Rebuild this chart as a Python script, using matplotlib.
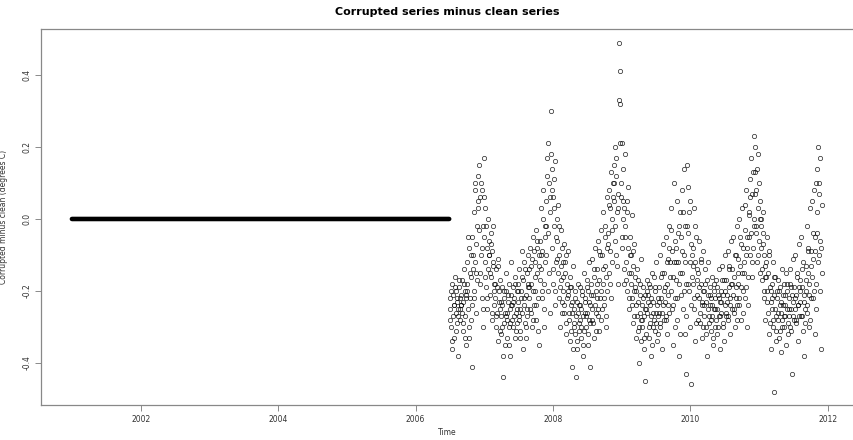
import numpy as np
import matplotlib.pyplot as plt

# corrupted minus clean (degrees C), sampled every 3 days from 2006-07-01
corr_2006 = [
    -0.22, -0.25, -0.30, -0.18, -0.36, -0.27, -0.21, -0.24, -0.33, -0.16,
    -0.26, -0.20, -0.23, -0.29, -0.38, -0.25, -0.19, -0.22, -0.28, -0.24,
    -0.21, -0.17, -0.26, -0.31, -0.23, -0.14, -0.20, -0.27, -0.35, -0.22,
    -0.12, -0.18, -0.25, -0.08, -0.33, -0.15, -0.22, -0.10, -0.28, -0.41,
    -0.05, -0.14, 0.02, -0.20, -0.12, 0.10, -0.26, -0.07, -0.17, 0.05,
    0.12, -0.03, 0.15, -0.15, 0.06, -0.10, -0.22, 0.08, -0.02, -0.30,
]
corr_2007 = [
    0.17, -0.05, -0.12, 0.03, -0.19, -0.08, -0.25, 0.00, -0.14, -0.06,
    -0.10, -0.21, -0.04, -0.16, -0.28, -0.09, -0.13, -0.02, -0.24, -0.18,
    -0.22, -0.14, -0.30, -0.19, -0.26, -0.11, -0.34, -0.20, -0.17, -0.25,
    -0.27, -0.32, -0.24, -0.19, -0.44, -0.29, -0.22, -0.35, -0.26, -0.15,
    -0.20, -0.28, -0.33, -0.23, -0.18, -0.30, -0.25, -0.38, -0.21, -0.12,
    -0.24, -0.30, -0.19, -0.27, -0.22, -0.33, -0.16, -0.26, -0.29, -0.20,
    -0.23, -0.18, -0.28, -0.14, -0.25, -0.31, -0.20, -0.09, -0.26, -0.36,
    -0.17, -0.24, -0.12, -0.29, -0.21, -0.33, -0.15, -0.27, -0.19, -0.10,
    -0.14, -0.22, -0.08, -0.26, -0.18, -0.30, -0.11, -0.20, -0.05, -0.24,
    -0.12, -0.20, -0.03, -0.28, -0.15, -0.08, -0.22, -0.35, -0.10, -0.17,
    -0.06, -0.14, 0.03, -0.22, -0.09, 0.08, -0.18, -0.30, -0.02, -0.12,
    0.05, -0.10, 0.17, -0.04, 0.21, -0.15, 0.10, -0.26, 0.02, 0.30,
]
corr_2008 = [
    0.14, -0.08, 0.06, -0.18, 0.11, -0.02, -0.24, 0.16, -0.12, 0.00,
    -0.06, -0.15, 0.04, -0.22, -0.10, -0.30, -0.03, -0.17, -0.08, -0.26,
    -0.12, -0.20, -0.07, -0.26, -0.15, -0.32, -0.10, -0.22, -0.18, -0.09,
    -0.21, -0.28, -0.16, -0.34, -0.24, -0.19, -0.41, -0.26, -0.13, -0.30,
    -0.25, -0.32, -0.20, -0.27, -0.44, -0.23, -0.36, -0.18, -0.29, -0.24,
    -0.28, -0.19, -0.33, -0.25, -0.21, -0.38, -0.27, -0.15, -0.31, -0.23,
    -0.22, -0.30, -0.17, -0.26, -0.35, -0.20, -0.12, -0.28, -0.24, -0.41,
    -0.18, -0.25, -0.11, -0.29, -0.21, -0.33, -0.16, -0.08, -0.26, -0.20,
    -0.14, -0.22, -0.06, -0.27, -0.17, -0.31, -0.10, -0.20, -0.03, -0.25,
    -0.10, -0.18, 0.02, -0.24, -0.13, -0.05, -0.30, -0.16, 0.06, -0.20,
    -0.04, 0.08, -0.15, 0.03, -0.09, 0.13, -0.22, 0.00, -0.12, 0.10,
    0.05, 0.15, -0.02, 0.20, -0.10, 0.12, 0.02, -0.18, 0.07, 0.33,
]
corr_2009 = [
    0.49, 0.32, 0.41, 0.06, 0.21, -0.05, 0.14, 0.00, -0.14, 0.03,
    0.18, -0.02, -0.12, 0.05, -0.20, -0.08, 0.09, -0.15, -0.25, -0.05,
    -0.10, -0.18, 0.01, -0.24, -0.13, -0.29, -0.07, -0.20, -0.16, -0.33,
    -0.20, -0.27, -0.14, -0.31, -0.23, -0.40, -0.18, -0.26, -0.11, -0.34,
    -0.24, -0.30, -0.19, -0.36, -0.27, -0.21, -0.45, -0.25, -0.32, -0.17,
    -0.26, -0.21, -0.33, -0.18, -0.29, -0.24, -0.38, -0.22, -0.15, -0.30,
    -0.23, -0.28, -0.16, -0.31, -0.20, -0.26, -0.12, -0.34, -0.22, -0.27,
    -0.19, -0.26, -0.10, -0.30, -0.22, -0.15, -0.36, -0.24, -0.07, -0.28,
    -0.15, -0.23, -0.05, -0.28, -0.18, -0.32, -0.11, -0.21, -0.02, -0.26,
    -0.12, -0.20, 0.03, -0.25, -0.09, -0.35, -0.16, 0.10, -0.22, -0.06,
    -0.08, -0.17, 0.05, -0.28, -0.12, -0.02, -0.38, -0.15, 0.02, -0.21,
    -0.05, -0.15, 0.08, -0.25, 0.14, -0.10, -0.32, -0.02, -0.43, -0.18,
]
corr_2010 = [
    0.15, -0.04, 0.09, -0.20, 0.02, -0.12, -0.30, -0.07, -0.46, -0.16,
    -0.08, -0.18, 0.03, -0.25, -0.12, -0.34, -0.05, -0.21, -0.14, -0.28,
    -0.15, -0.22, -0.06, -0.29, -0.18, -0.11, -0.33, -0.24, -0.09, -0.20,
    -0.20, -0.27, -0.14, -0.32, -0.23, -0.17, -0.38, -0.25, -0.12, -0.29,
    -0.24, -0.19, -0.31, -0.22, -0.27, -0.16, -0.35, -0.25, -0.20, -0.30,
    -0.22, -0.28, -0.17, -0.25, -0.32, -0.21, -0.14, -0.27, -0.23, -0.36,
    -0.20, -0.26, -0.13, -0.29, -0.21, -0.34, -0.17, -0.24, -0.10, -0.27,
    -0.17, -0.23, -0.09, -0.28, -0.19, -0.14, -0.32, -0.22, -0.06, -0.25,
    -0.14, -0.21, -0.05, -0.26, -0.16, -0.30, -0.10, -0.19, -0.02, -0.24,
    -0.11, -0.18, 0.00, -0.24, -0.13, -0.07, -0.28, -0.15, 0.03, -0.20,
    -0.08, -0.15, 0.04, -0.22, -0.10, 0.08, -0.30, -0.05, -0.16, 0.01,
    0.02, -0.10, 0.11, -0.04, 0.17, -0.16, 0.07, -0.08, 0.23, 0.00,
]
corr_2011 = [
    0.13, 0.20, -0.02, 0.08, -0.12, 0.18, 0.03, -0.06, 0.10, -0.15,
    0.05, -0.08, 0.00, -0.17, -0.04, 0.02, -0.22, -0.10, -0.28, -0.13,
    -0.12, -0.20, -0.05, -0.26, -0.15, -0.32, -0.09, -0.19, -0.36, -0.23,
    -0.18, -0.25, -0.12, -0.30, -0.21, -0.48, -0.16, -0.27, -0.34, -0.20,
    -0.22, -0.28, -0.17, -0.33, -0.24, -0.19, -0.37, -0.26, -0.14, -0.30,
    -0.24, -0.18, -0.30, -0.21, -0.27, -0.15, -0.35, -0.25, -0.20, -0.32,
    -0.22, -0.27, -0.14, -0.30, -0.19, -0.25, -0.43, -0.23, -0.11, -0.28,
    -0.19, -0.25, -0.10, -0.29, -0.21, -0.16, -0.34, -0.24, -0.07, -0.27,
    -0.17, -0.23, -0.05, -0.27, -0.19, -0.31, -0.12, -0.21, -0.38, -0.25,
    -0.13, -0.20, -0.02, -0.26, -0.15, -0.08, -0.30, -0.18, 0.03, -0.22,
    -0.09, -0.16, 0.05, -0.22, -0.11, 0.08, -0.32, -0.05, -0.18, 0.10,
    0.14, -0.04, 0.20, -0.10, 0.07, -0.20, 0.17, -0.36, -0.08, 0.04,
]

# in-between days, every 6 days from 2006-07-02
extra_2006 = [
    -0.28, -0.20, -0.34, -0.24, -0.19, -0.31, -0.22, -0.27, -0.17, -0.25,
    -0.24, -0.29, -0.18, -0.33, -0.21, -0.20, -0.05, -0.30, -0.16, -0.24,
    -0.10, -0.22, 0.08, -0.15, -0.02, 0.03, -0.18, 0.10, -0.08, -0.25,
]
extra_2007 = [
    0.06, -0.16, -0.02, -0.22, -0.10, -0.15, -0.07, -0.26, -0.12, -0.20,
    -0.18, -0.27, -0.13, -0.23, -0.31, -0.23, -0.30, -0.38, -0.20, -0.27,
    -0.26, -0.21, -0.35, -0.29, -0.24, -0.28, -0.23, -0.18, -0.31, -0.25,
    -0.20, -0.27, -0.33, -0.22, -0.16, -0.22, -0.14, -0.30, -0.25, -0.18,
    -0.19, -0.25, -0.13, -0.28, -0.09, -0.16, -0.24, -0.06, -0.31, -0.13,
    -0.10, -0.20, 0.00, -0.25, -0.05, -0.02, 0.12, -0.20, 0.06, 0.18,
]
extra_2008 = [
    0.08, -0.14, 0.03, -0.20, -0.05, -0.11, -0.02, -0.19, -0.13, -0.23,
    -0.16, -0.24, -0.12, -0.29, -0.20, -0.26, -0.19, -0.31, -0.23, -0.36,
    -0.29, -0.22, -0.34, -0.26, -0.31, -0.24, -0.30, -0.20, -0.35, -0.26,
    -0.27, -0.19, -0.32, -0.23, -0.29, -0.21, -0.28, -0.14, -0.24, -0.31,
    -0.18, -0.25, -0.09, -0.22, -0.28, -0.14, -0.22, -0.02, -0.27, -0.08,
    -0.07, 0.04, -0.18, -0.03, 0.06, 0.10, -0.06, 0.17, -0.13, 0.03,
]
extra_2009 = [
    0.21, 0.10, -0.08, 0.05, -0.18, -0.05, -0.17, 0.02, -0.22, -0.10,
    -0.15, -0.22, -0.09, -0.27, -0.19, -0.24, -0.17, -0.30, -0.21, -0.28,
    -0.28, -0.22, -0.33, -0.25, -0.20, -0.23, -0.30, -0.19, -0.27, -0.35,
    -0.26, -0.19, -0.29, -0.24, -0.32, -0.23, -0.29, -0.16, -0.26, -0.20,
    -0.19, -0.27, -0.12, -0.24, -0.08, -0.16, -0.03, -0.24, -0.12, -0.30,
    -0.12, -0.22, -0.04, -0.18, -0.32, -0.09, 0.02, -0.20, -0.12, -0.27,
]
extra_2010 = [
    -0.02, -0.18, 0.05, -0.24, -0.10, -0.13, -0.22, -0.02, -0.29, -0.17,
    -0.19, -0.26, -0.12, -0.23, -0.30, -0.24, -0.18, -0.30, -0.21, -0.27,
    -0.21, -0.28, -0.24, -0.33, -0.18, -0.25, -0.19, -0.30, -0.22, -0.27,
    -0.23, -0.17, -0.30, -0.20, -0.26, -0.21, -0.27, -0.13, -0.24, -0.18,
    -0.18, -0.25, -0.10, -0.22, -0.28, -0.15, -0.22, -0.05, -0.19, -0.26,
    -0.12, -0.03, -0.19, -0.08, -0.24, -0.05, 0.06, -0.12, 0.13, -0.02,
]
extra_2011 = [
    0.07, -0.04, 0.14, -0.10, 0.00, -0.02, -0.14, -0.07, -0.20, -0.16,
    -0.16, -0.23, -0.10, -0.29, -0.20, -0.22, -0.28, -0.16, -0.25, -0.31,
    -0.26, -0.20, -0.31, -0.23, -0.28, -0.21, -0.27, -0.24, -0.18, -0.29,
    -0.25, -0.18, -0.31, -0.21, -0.27, -0.22, -0.28, -0.15, -0.24, -0.19,
    -0.20, -0.27, -0.14, -0.23, -0.29, -0.17, -0.24, -0.09, -0.21, -0.28,
    -0.13, -0.04, -0.20, -0.09, -0.25, 0.02, -0.12, 0.10, -0.06, -0.15,
]

# before mid-2006 the two series are identical (daily, difference 0)
flat_start, flat_end = 2001.0, 2006.49
year_ticks = [2002, 2004, 2006, 2008, 2010, 2012]
y_ticks = [-0.4, -0.2, 0.0, 0.2, 0.4]

corrupt = np.array(corr_2006 + corr_2007 + corr_2008 + corr_2009 + corr_2010 + corr_2011)
t_corrupt = 2006.5 + np.arange(len(corrupt)) * 3 / 365.25
extra = np.array(extra_2006 + extra_2007 + extra_2008 + extra_2009 + extra_2010 + extra_2011)
t_extra = 2006.5 + (1.5 + np.arange(len(extra)) * 6) / 365.25
t_flat = np.arange(flat_start, flat_end, 1 / 365.25)
flat = np.zeros(len(t_flat))

fig = plt.figure(figsize=(8.54, 4.40), dpi=100)
ax = fig.add_axes([41 / 854, 35 / 440, 813 / 854, 376 / 440])

# daily zeros: overlapping circles merge into a solid thick band
ax.plot(t_flat, flat, linestyle='-', linewidth=3.3, color='black', solid_capstyle='round')
ax.plot(np.concatenate([t_corrupt, t_extra]), np.concatenate([corrupt, extra]),
        linestyle='none', marker='o', markerfacecolor='none', markeredgecolor='black',
        markersize=3.1, markeredgewidth=0.55, alpha=0.8)

ax.set_xlim(2000.55, 2012.38)
ax.set_ylim(-0.517, 0.528)

ax.set_xticks(year_ticks)
ax.set_xticklabels([str(y) for y in year_ticks])
ax.set_yticks(y_ticks)
ax.set_yticklabels(['%.1f' % v for v in y_ticks], rotation=90, va='center')
ax.tick_params(direction='out', length=4, width=0.6, color='#777777',
               labelsize=5.5, labelcolor='#333333', pad=3)

for side in ['top', 'left', 'bottom']:
    ax.spines[side].set_color('#888888')
    ax.spines[side].set_linewidth(0.9)
ax.spines['right'].set_visible(False)

ax.set_title('Corrupted series minus clean series', fontsize=8, fontweight='bold', pad=10)
ax.set_xlabel('Time', fontsize=5.5, color='#333333')
ax.set_ylabel('Corrupted minus clean (degrees C)', fontsize=5.5, color='#333333')
ax.xaxis.set_label_coords(0.5, -0.062)
ax.yaxis.set_label_coords(-0.041, 0.5)

fig.savefig('out.png', dpi=100)
